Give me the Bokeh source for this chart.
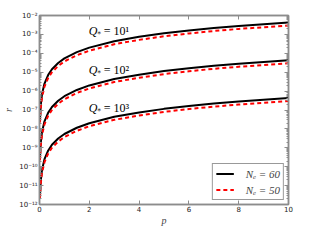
import numpy as np
from bokeh.plotting import figure
from bokeh.models import (Range1d, FixedTicker, LinearAxis, LogAxis, Legend, LegendItem,
                          CustomJSTickFormatter, ColumnDataSource, CustomLabelingPolicy)
from bokeh.core.properties import value
from bokeh.embed import file_html
from bokeh.resources import INLINE

# ---- data (log10 r) ----
p_vals = [0.02, 0.05, 0.1, 0.2, 0.35, 0.5, 0.75, 1, 1.5, 2, 3, 4, 5, 6, 7, 8, 9, 10]
logr_q1_n60 = [-7.50, -6.74, -6.17, -5.60, -5.14, -4.84, -4.51, -4.27, -3.94, -3.70, -3.36, -3.13, -2.94, -2.79, -2.66, -2.55, -2.46, -2.37]
logr_q1_n50 = [-7.66, -6.90, -6.33, -5.76, -5.30, -5.00, -4.67, -4.43, -4.10, -3.86, -3.52, -3.29, -3.10, -2.95, -2.82, -2.71, -2.62, -2.53]
logr_q2_n60 = [-9.50, -8.74, -8.17, -7.60, -7.14, -6.84, -6.51, -6.27, -5.94, -5.70, -5.36, -5.13, -4.94, -4.79, -4.66, -4.55, -4.46, -4.37]
logr_q2_n50 = [-9.66, -8.90, -8.33, -7.76, -7.30, -7.00, -6.67, -6.43, -6.10, -5.86, -5.52, -5.29, -5.10, -4.95, -4.82, -4.71, -4.62, -4.53]
logr_q3_n60 = [-11.50, -10.74, -10.17, -9.60, -9.14, -8.84, -8.51, -8.27, -7.94, -7.70, -7.36, -7.13, -6.94, -6.79, -6.66, -6.55, -6.46, -6.37]
logr_q3_n50 = [-11.66, -10.90, -10.33, -9.76, -9.30, -9.00, -8.67, -8.43, -8.10, -7.86, -7.52, -7.29, -7.10, -6.95, -6.82, -6.71, -6.62, -6.53]

label_p = [1.98, 1.98, 1.98]
label_logr = [-2.84, -4.88, -6.87]
label_exp = ["¹", "²", "³"]

x_ticks = [0, 2, 4, 6, 8, 10]
y_decades = list(range(-12, -1))

SPINE = "#8c8c8c"

p = figure(frame_width=249, frame_height=189, output_backend="svg", toolbar_location=None,
           x_range=Range1d(0, 10), y_range=Range1d(1e-12, 1e-2), y_axis_type="log",
           min_border_left=32, min_border_right=23, min_border_top=15, min_border_bottom=20)
p.background_fill_color = "white"
p.border_fill_color = "white"
p.grid.visible = False
p.outline_line_color = SPINE
p.outline_line_width = 1.5

yt = FixedTicker(ticks=[10.0 ** d for d in y_decades],
                 minor_ticks=[m * 10.0 ** d for d in y_decades[:-1] for m in range(2, 10)])
xt = FixedTicker(ticks=x_ticks, minor_ticks=[])

fmt = CustomJSTickFormatter(code="""
const sup = {'-':'\u207b','0':'\u2070','1':'\u00b9','2':'\u00b2','3':'\u00b3','4':'\u2074',
             '5':'\u2075','6':'\u2076','7':'\u2077','8':'\u2078','9':'\u2079'};
const e = String(Math.round(Math.log10(tick)));
let s = '';
for (const c of e) s += sup[c];
return '10' + s;
""")

def style(ax, show):
    ax.axis_line_color = SPINE
    ax.axis_line_width = 1.5
    ax.major_tick_line_color = SPINE
    ax.minor_tick_line_color = SPINE
    ax.major_tick_in = 4
    ax.major_tick_out = 0
    ax.minor_tick_in = 2
    ax.minor_tick_out = 0
    ax.major_label_text_font = "DejaVu Sans"
    ax.major_label_text_font_size = "7px"
    ax.major_label_text_color = "#222222"
    ax.major_label_standoff = 2
    if not show:
        ax.major_label_policy = CustomLabelingPolicy(code="return []")
        ax.major_label_standoff = 0

xa = p.xaxis[0]
xa.ticker = xt
style(xa, True)
xa.major_label_standoff = 1
xa.axis_label = "p"
xa.axis_label_text_font = "Liberation Serif"
xa.axis_label_text_font_style = "italic"
xa.axis_label_text_font_size = "10px"
xa.axis_label_standoff = 0

ya = p.yaxis[0]
ya.ticker = yt
ya.formatter = fmt
style(ya, True)
ya.axis_label = "r"
ya.axis_label_text_font = "Liberation Serif"
ya.axis_label_text_font_style = "italic"
ya.axis_label_text_font_size = "10px"
ya.axis_label_standoff = 2

top = LinearAxis(ticker=xt)
style(top, False)
p.add_layout(top, "above")
right = LogAxis(ticker=yt, formatter=fmt)
style(right, False)
p.add_layout(right, "right")

pv = np.array(p_vals)
pairs = [(logr_q1_n60, logr_q1_n50), (logr_q2_n60, logr_q2_n50), (logr_q3_n60, logr_q3_n50)]
black_r, red_r = [], []
for l60, l50 in pairs:
    black_r.append(p.line(pv, 10.0 ** np.array(l60), line_color="black", line_width=2))
    red_r.append(p.line(pv, 10.0 ** np.array(l50), line_color="#ff0000", line_width=2,
                        line_dash="4 3"))

src = ColumnDataSource(dict(x=label_p, y=[10.0 ** v for v in label_logr],
                            rest=["= 10" + e for e in label_exp]))
p.text(x="x", y="y", text=value("Q"), source=src, text_font=value("Liberation Serif"),
       text_font_style="italic", text_font_size="12px", text_color="black",
       text_baseline="alphabetic")
p.text(x="x", y="y", text=value("∗"), source=src, text_font=value("DejaVu Serif"),
       text_font_size="7px", text_color="black", x_offset=8, y_offset=2,
       text_baseline="alphabetic")
p.text(x="x", y="y", text="rest", source=src, text_font=value("Liberation Serif"),
       text_font_size="12px", text_color="black", x_offset=15,
       text_baseline="alphabetic")

legend = Legend(items=[LegendItem(label="Nₑ = 60", renderers=[black_r[0]]),
                       LegendItem(label="Nₑ = 50", renderers=[red_r[0]])],
                location="bottom_right")
legend.label_text_font = "Liberation Serif"
legend.label_text_font_style = "italic"
legend.label_text_font_size = "11px"
legend.border_line_color = "#333333"
legend.border_line_width = 1
legend.glyph_width = 18
legend.glyph_height = 13
legend.label_height = 13
legend.label_standoff = 12
legend.spacing = 3
legend.padding = 3
legend.margin = 4
legend.background_fill_alpha = 1.0
p.add_layout(legend)

open("out.html", "w").write(file_html(p, INLINE))
